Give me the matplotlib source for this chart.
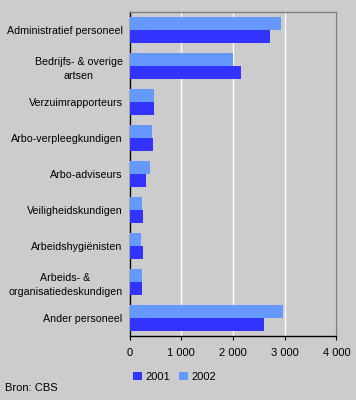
import numpy as np
import matplotlib
matplotlib.use('Agg')
import matplotlib.pyplot as plt

categories = ['Administratief personeel', 'Bedrijfs- & overige\nartsen',
              'Verzuimrapporteurs', 'Arbo-verpleegkundigen', 'Arbo-adviseurs',
              'Veiligheidskundigen', 'Arbeidshygiënisten',
              'Arbeids- &\norganisatiedeskundigen', 'Ander personeel']
v2001 = [2720, 2160, 477, 457, 322, 264, 264, 245, 2600]
v2002 = [2930, 2000, 477, 438, 399, 245, 225, 245, 2970]
xticks = [0, 1000, 2000, 3000, 4000]
xticklabels = ['0', '1 000', '2 000', '3 000', '4 000']

plt.rcParams['font.family'] = ['Liberation Sans', 'DejaVu Sans']
plt.rcParams['font.size'] = 8

bg = '#cccccc'
fig = plt.figure(figsize=(3.56, 4.0), dpi=100, facecolor=bg)
ax = fig.add_axes([0.364, 0.16, 0.581, 0.811], facecolor=bg)

y = np.arange(len(categories))
h = 0.36
ax.barh(y + h / 2, v2001, height=h, color='#3333ff', label='2001', zorder=3)
ax.barh(y - h / 2, v2002, height=h, color='#6699ff', label='2002', zorder=3)

ax.set_ylim(len(categories) - 0.5, -0.5)
ax.set_yticks(y)
ax.set_yticklabels(categories, ha='right', multialignment='center',
                   linespacing=1.5, fontsize=7.7)
ax.tick_params(axis='y', length=0, pad=5)

ax.set_xlim(0, 4000)
ax.set_xticks(xticks)
ax.set_xticklabels(xticklabels)
ax.tick_params(axis='x', direction='out', length=3, pad=6)
ax.grid(axis='x', color='white', linewidth=1, zorder=1)

for s in ['left', 'bottom']:
    ax.spines[s].set_color('black')
for s in ['top', 'right']:
    ax.spines[s].set_color('#808080')
for s in ax.spines.values():
    s.set_linewidth(1)

ax.legend(loc='upper left', bbox_to_anchor=(0.358, 0.085), bbox_transform=fig.transFigure,
          ncol=2, frameon=False, handlelength=0.8, handleheight=0.8,
          handletextpad=0.3, columnspacing=0.8, borderpad=0)

fig.text(0.014, 0.018, 'Bron: CBS', ha='left', va='bottom')

fig.savefig('out.png', dpi=100, facecolor=bg)
